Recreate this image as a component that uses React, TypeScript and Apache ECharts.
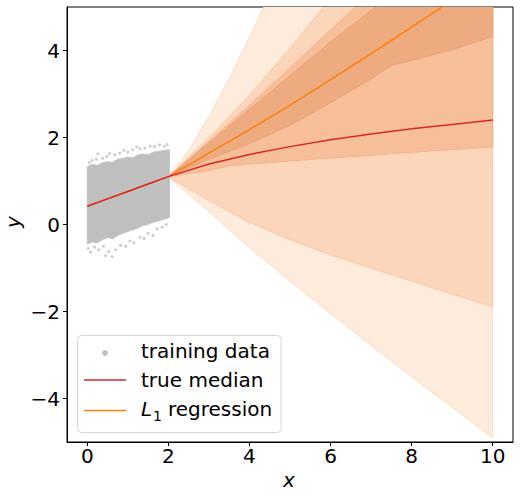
import React, { useEffect, useRef } from "react";
import * as echarts from "echarts";

// ---- data ----
const xTicks = [0, 2, 4, 6, 8, 10];
const yTicks = [-4, -2, 0, 2, 4];

const medianX = [0, 0.5, 1, 1.5, 2, 3, 4, 5, 6, 7, 8, 9, 10];
const medianY = [0.42, 0.59, 0.76, 0.93, 1.1, 1.39, 1.61, 1.79, 1.95, 2.08, 2.2, 2.3, 2.4];

const l1X = [0, 2, 3, 4, 5, 6, 7, 8, 9, 10];
const l1Y = [0.42, 1.1, 1.64, 2.18, 2.74, 3.33, 3.93, 4.54, 5.15, 5.76];

const bandX = [2, 2.5, 3, 3.5, 4, 5, 6, 7, 7.5, 8, 9, 10];
const band1Upper = [1.1, 1.7, 2.48, 3.35, 4.3, 6.3, 8.3, 10.3, 11.3, 12.3, 14.3, 16.3];
const band1Lower = [1.1, 0.7, 0.3, -0.12, -0.53, -1.3, -2.05, -2.78, -3.14, -3.5, -4.2, -4.91];
const band2Upper = [1.1, 1.55, 2.0, 2.48, 2.97, 4.05, 5.2, 6.4, 7.0, 7.6, 8.8, 10.0];
const band2Lower = [1.1, 0.82, 0.55, 0.3, 0.05, -0.35, -0.7, -1.0, -1.15, -1.3, -1.6, -1.89];
const band3Upper = [1.1, 1.5, 1.92, 2.33, 2.74, 3.6, 4.47, 5.35, 5.8, 6.2, 7.1, 8.0];
const band3Lower = [1.1, 1.17, 1.24, 1.35, 1.39, 1.46, 1.53, 1.59, 1.63, 1.66, 1.72, 1.78];
const band4Upper = [1.1, 1.48, 1.87, 2.26, 2.65, 3.42, 4.2, 4.92, 5.3, 5.7, 6.5, 7.3];
const band4Lower = [1.1, 1.3, 1.5, 1.68, 1.86, 2.28, 2.8, 3.35, 3.66, 3.77, 4.02, 4.32];

// dense training-data cloud outline
const cloudX = [0, 0.125, 0.25, 0.375, 0.5, 0.625, 0.75, 0.875, 1, 1.125, 1.25, 1.375, 1.5, 1.625, 1.75, 1.875, 2.0, 2.03];
const cloudTop = [1.33, 1.38, 1.36, 1.42, 1.44, 1.43, 1.5, 1.52, 1.55, 1.53, 1.6, 1.62, 1.6, 1.66, 1.68, 1.7, 1.72, 1.72];
const cloudBottom = [-0.45, -0.4, -0.42, -0.35, -0.3, -0.33, -0.25, -0.2, -0.16, -0.12, -0.08, -0.02, 0.0, 0.05, 0.08, 0.12, 0.15, 0.17];
// sparse training points around the dense cloud
const sparseX = [
  0.05, 0.12, 0.22, 0.26, 0.38, 0.48, 0.55, 0.68, 0.8, 0.9, 1.0, 1.12, 1.22, 1.3, 1.42, 1.55, 1.66, 1.78, 1.9, 1.97,
  0.02, 0.08, 0.18, 0.28, 0.4, 0.53, 0.61, 0.7, 0.82, 0.95, 1.05, 1.15, 1.3, 1.4, 1.5, 1.62, 1.72, 1.85, 1.95, 0.45,
];
const sparseY = [
  1.42, 1.47, 1.5, 1.62, 1.52, 1.56, 1.63, 1.6, 1.64, 1.7, 1.66, 1.72, 1.78, 1.74, 1.76, 1.8, 1.79, 1.83, 1.8, 1.84,
  -0.55, -0.64, -0.52, -0.58, -0.5, -0.62, -0.74, -0.58, -0.48, -0.5, -0.38, -0.42, -0.3, -0.32, -0.2, -0.25, -0.1, -0.06, 0.0, -0.72,
];

const BAND_COLORS = ["#fdebdb", "#fcd6ba", "#f6bf9a", "#eeab80"];
const BAND_STROKES = ["#fbdcc4", "#f9c8a6", "#f2b48b", "#eba176"];

const FONT = "DejaVu Sans";

function polygonSeries(name: string, xs: number[], upper: number[], lower: number[], fill: string, stroke: string) {
  return {
    type: "custom",
    name,
    coordinateSystem: "cartesian2d",
    clip: true,
    silent: true,
    data: [[xs[0], upper[0]]],
    renderItem: (_params: any, api: any) => {
      const pts: number[][] = [];
      for (let i = 0; i < xs.length; i++) pts.push(api.coord([xs[i], upper[i]]));
      for (let i = xs.length - 1; i >= 0; i--) pts.push(api.coord([xs[i], lower[i]]));
      return {
        type: "polygon",
        shape: { points: pts },
        style: { fill, stroke, lineWidth: 1 },
      };
    },
  };
}

export default function App() {
  const ref = useRef<HTMLDivElement>(null);
  useEffect(() => {
    if (!ref.current) return;
    const chart = echarts.init(ref.current, null, { renderer: "svg" });
    const fmt = (v: number) => String(v).replace("-", "\u2212");
    const option: any = {
      animation: false,
      backgroundColor: "#ffffff",
      grid: { left: 67, top: 7, width: 446, height: 435, show: true, borderColor: "#000", borderWidth: 1, backgroundColor: "transparent" },
      xAxis: {
        type: "value",
        min: -0.5,
        max: 10.5,
        axisLine: { show: true, onZero: false, lineStyle: { color: "#000", width: 1 } },
        axisTick: { show: true, length: 4, lineStyle: { color: "#000" }, customValues: xTicks },
        axisLabel: { customValues: xTicks, formatter: fmt, fontFamily: FONT, fontSize: 20, color: "#000", margin: 4 },
        splitLine: { show: false },
      },
      yAxis: {
        type: "value",
        min: -5,
        max: 5,
        axisLine: { show: true, onZero: false, lineStyle: { color: "#000", width: 1 } },
        axisTick: { show: true, length: 4, lineStyle: { color: "#000" }, customValues: yTicks },
        axisLabel: { customValues: yTicks, formatter: fmt, fontFamily: FONT, fontSize: 20, color: "#000", margin: 7 },
        splitLine: { show: false },
      },
      series: [
        polygonSeries("band 1", bandX, band1Upper, band1Lower, BAND_COLORS[0], BAND_STROKES[0]),
        polygonSeries("band 2", bandX, band2Upper, band2Lower, BAND_COLORS[1], BAND_STROKES[1]),
        polygonSeries("band 3", bandX, band3Upper, band3Lower, BAND_COLORS[2], BAND_STROKES[2]),
        polygonSeries("band 4", bandX, band4Upper, band4Lower, BAND_COLORS[3], BAND_STROKES[3]),
        polygonSeries("training cloud", cloudX, cloudTop, cloudBottom, "#bfbfbf", "#c4c4c4"),
        {
          type: "scatter",
          name: "training data",
          symbol: "circle",
          symbolSize: 3,
          itemStyle: { color: "#bfbfbf" },
          data: sparseX.map((x, i) => [x, sparseY[i]]),
          silent: true,
        },
        {
          type: "line",
          name: "L1 regression",
          data: l1X.map((x, i) => [x, l1Y[i]]),
          showSymbol: false,
          clip: true,
          lineStyle: { color: "#ff7f0e", width: 1.5 },
          silent: true,
        },
        {
          type: "line",
          name: "true median",
          data: medianX.map((x, i) => [x, medianY[i]]),
          showSymbol: false,
          clip: true,
          lineStyle: { color: "#d62728", width: 1.5 },
          silent: true,
        },
      ],
      graphic: [
        { type: "text", x: 289, y: 480, style: { text: "x", fontFamily: FONT, fontStyle: "italic", fontSize: 20, fill: "#000", align: "center", verticalAlign: "middle" } },
        { type: "text", x: 13, y: 222, rotation: Math.PI / 2, style: { text: "y", fontFamily: FONT, fontStyle: "italic", fontSize: 20, fill: "#000", align: "center", verticalAlign: "middle" } },
        {
          type: "rect",
          z: 100,
          shape: { x: 77.5, y: 335.5, width: 203.5, height: 97, r: 4 },
          style: { fill: "rgba(255,255,255,0.8)", stroke: "#d6d6d6", lineWidth: 1 },
        },
        { type: "circle", z: 101, shape: { cx: 105, cy: 353, r: 3 }, style: { fill: "#bfbfbf" } },
        { type: "line", z: 101, shape: { x1: 84, y1: 380, x2: 126, y2: 380 }, style: { stroke: "#d62728", lineWidth: 1.5 } },
        { type: "line", z: 101, shape: { x1: 84, y1: 410.5, x2: 126, y2: 410.5 }, style: { stroke: "#ff7f0e", lineWidth: 1.5 } },
        { type: "text", z: 101, x: 141, y: 351, style: { text: "training data", fontFamily: FONT, fontSize: 20, fill: "#000", verticalAlign: "middle" } },
        { type: "text", z: 101, x: 141, y: 380, style: { text: "true median", fontFamily: FONT, fontSize: 20, fill: "#000", verticalAlign: "middle" } },
        { type: "text", z: 101, x: 141, y: 409, style: { text: "L", fontFamily: FONT, fontStyle: "italic", fontSize: 20, fill: "#000", verticalAlign: "middle" } },
        { type: "text", z: 101, x: 153, y: 416, style: { text: "1", fontFamily: FONT, fontSize: 14, fill: "#000", verticalAlign: "middle" } },
        { type: "text", z: 101, x: 168, y: 409, style: { text: "regression", fontFamily: FONT, fontSize: 20, fill: "#000", verticalAlign: "middle" } },
      ],
    };
    chart.setOption(option);
    return () => chart.dispose();
  }, []);
  return <div ref={ref} style={{ width: 520, height: 498, position: "absolute", left: 0, top: 0 }} />;
}
